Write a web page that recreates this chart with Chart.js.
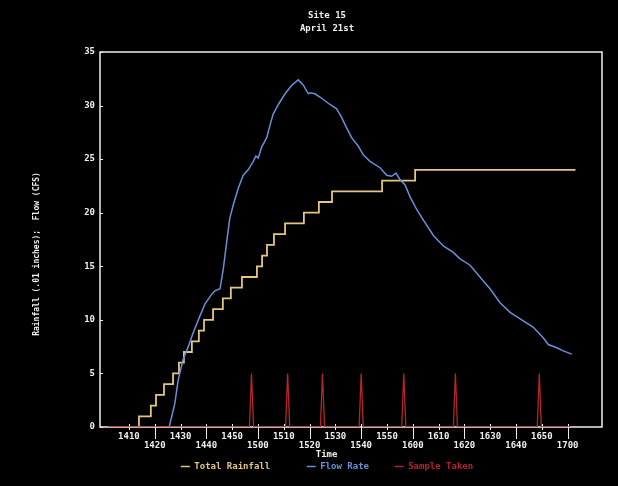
<!DOCTYPE html>
<html>
<head>
<meta charset="utf-8">
<script src="https://cdn.jsdelivr.net/npm/chart.js@4.4.0/dist/chart.umd.min.js"></script>
<style>
    html, body { margin: 0; padding: 0; background: #000; }
    #wrap { width: 618px; height: 486px; }
</style>
</head>
<body>
<div id="wrap"><canvas id="graficoSite15"></canvas></div>
<script>
// Times are minutes after 14:00
const xTickLabels = ['1410', '1420', '1430', '1440', '1450', '1500', '1510', '1520', '1530',
                     '1540', '1550', '1600', '1610', '1620', '1630', '1640', '1650', '1700'];

const rainTimes  = [2, 13.9, 18.5, 20.5, 23.6, 27.1, 29.4, 31.3, 34.4, 37.1, 39.1, 42.6, 46.4,
                    49.5, 53.8, 59.6, 61.6, 63.5, 66.2, 70.5, 77.8, 83.6, 88.7, 108.1, 120.9, 183];
const rainTotals = [0, 1, 2, 3, 4, 5, 6, 7, 8, 9, 10, 11, 12,
                    13, 14, 15, 16, 17, 18, 19, 20, 21, 22, 23, 24, 24];

const flowTimes  = [25.6, 27.8, 29.1, 31.0, 33.0, 34.9, 36.9, 39.5, 42.1, 43.3, 45.3, 46.6, 47.9,
                    49.1, 50.4, 52.4, 54.3, 56.2, 58.2, 59.2, 60.1, 61.4, 63.4, 64.7, 65.9, 67.9,
                    70.5, 73.1, 75.6, 77.6, 79.5, 80.2, 82.1, 84.0, 87.9, 90.5, 92.4, 94.4, 96.3,
                    98.9, 100.8, 103.4, 107.3, 109.9, 111.8, 113.5, 115.0, 117.0, 118.9, 121.5,
                    124.1, 127.9, 131.8, 135.7, 138.3, 142.2, 146.0, 149.9, 153.8, 157.7, 162.8,
                    166.7, 170.6, 172.5, 175.8, 178.3, 181.6];
const flowValues = [0, 2.2, 4.4, 6.3, 7.5, 8.8, 10, 11.5, 12.4, 12.7, 12.9, 14.8, 17.3,
                    19.5, 20.7, 22.3, 23.5, 24.0, 24.8, 25.3, 25.1, 26.1, 27, 28.2, 29.2, 30.1,
                    31.1, 31.9, 32.4, 31.9, 31.1, 31.2, 31.1, 30.8, 30.1, 29.7, 28.9, 27.9, 27,
                    26.2, 25.4, 24.8, 24.2, 23.5, 23.4, 23.7, 23.1, 22.6, 21.5, 20.3,
                    19.3, 17.9, 16.9, 16.3, 15.7, 15.1, 14, 12.9, 11.6, 10.7, 9.9,
                    9.3, 8.3, 7.7, 7.4, 7.1, 6.8];

const sampleTimes = [57.5, 71.5, 85, 100, 116.5, 136.5, 169];
const sampleMark  = 5;
const sampleSpan  = [2, 181];

const xMin = -1.2;
const xMax = 193.3;

const axisColor = '#f0f0f0';
const rainColor = '#e3c77e';
const flowColor = '#6b8fd6';
const sampleColor = '#b3262b';
const mono = 'DejaVu Sans Mono';

// "1410" -> 10 minutes after 14:00
const xTickValues = xTickLabels.map(l => (+l.slice(0, 2) - 14) * 60 + (+l.slice(2)));

const rainData = rainTimes.map((t, i) => ({ x: t, y: rainTotals[i] }));
const flowData = flowTimes.map((t, i) => ({ x: t, y: flowValues[i] }));
const sampleData = [{ x: sampleSpan[0], y: 0 }];
sampleTimes.forEach(t => {
    sampleData.push({ x: t - 0.8, y: 0 }, { x: t, y: sampleMark }, { x: t + 0.8, y: 0 });
});
sampleData.push({ x: sampleSpan[1], y: 0 });

// box round the plot plus tick marks (long ones under the lower labels)
const moldura = {
    id: 'moldura',
    beforeDatasetsDraw(chart) {
        const { ctx, chartArea: a, scales: { x, y } } = chart;
        ctx.save();
        ctx.strokeStyle = axisColor;
        ctx.lineWidth = 1.5;
        ctx.strokeRect(a.left, a.top, a.right - a.left, a.bottom - a.top);
        ctx.lineWidth = 1;
        xTickValues.forEach((v, i) => {
            const px = Math.round(x.getPixelForValue(v)) + 0.5;
            ctx.beginPath();
            ctx.moveTo(px, a.bottom - 3);
            ctx.lineTo(px, a.bottom + (i % 2 ? 12 : 3));
            ctx.stroke();
        });
        y.ticks.forEach(t => {
            const py = Math.round(y.getPixelForValue(t.value)) + 0.5;
            ctx.beginPath();
            ctx.moveTo(a.left, py);
            ctx.lineTo(a.left + 3, py);
            ctx.stroke();
        });
        ctx.restore();
    }
};

const legendNames = ['Total Rainfall      ', 'Flow Rate    ', 'Sample Taken'];
const legendColors = [rainColor, flowColor, sampleColor];

const ctx = document.getElementById('graficoSite15').getContext('2d');

const grafico = new Chart(ctx, {
    type: 'line',
    data: {
        datasets: [{
            label: 'Total Rainfall',
            data: rainData,
            borderColor: rainColor,
            borderWidth: 1.8,
            stepped: 'before',
            pointRadius: 0,
            order: 2
        }, {
            label: 'Flow Rate',
            data: flowData,
            borderColor: flowColor,
            borderWidth: 1.5,
            pointRadius: 0,
            order: 1
        }, {
            label: 'Sample Taken',
            data: sampleData,
            borderColor: sampleColor,
            borderWidth: 1.3,
            pointRadius: 0,
            order: 0
        }]
    },
    options: {
        responsive: true,
        maintainAspectRatio: false,
        animation: false,
        layout: {
            padding: { left: 52, right: 16, top: 0, bottom: 5 }
        },
        plugins: {
            tooltip: { enabled: false },
            title: {
                display: true,
                text: 'Site 15',
                color: axisColor,
                font: { family: mono, size: 9, weight: 'bold' },
                padding: { top: 10, bottom: 2 }
            },
            subtitle: {
                display: true,
                text: 'April 21st',
                color: axisColor,
                font: { family: mono, size: 9, weight: 'bold' },
                padding: { top: 0, bottom: 18.4 }
            },
            legend: {
                position: 'bottom',
                labels: {
                    boxWidth: 9,
                    boxHeight: 1.5,
                    padding: 4,
                    font: { family: mono, size: 9, weight: 'bold' },
                    generateLabels: () => legendNames.map((name, i) => ({
                        text: name,
                        fillStyle: legendColors[i],
                        strokeStyle: legendColors[i],
                        fontColor: legendColors[i],
                        lineWidth: 0,
                        datasetIndex: i
                    }))
                }
            }
        },
        scales: {
            x: {
                type: 'linear',
                min: xMin,
                max: xMax,
                grid: { display: false, drawTicks: false },
                border: { display: false },
                afterBuildTicks: s => { s.ticks = xTickValues.map(v => ({ value: v })); },
                afterFit: s => { s.height = 31; },
                ticks: {
                    autoSkip: false,
                    maxRotation: 0,
                    padding: 5.5,
                    color: axisColor,
                    font: { family: mono, size: 9, weight: 'bold', lineHeight: 1 },
                    callback: (v, i) => i % 2 ? ['', xTickLabels[i]] : xTickLabels[i]
                },
                title: {
                    display: true,
                    text: 'Time         ',
                    color: axisColor,
                    font: { family: mono, size: 9, weight: 'bold' },
                    padding: { top: 0, bottom: -2.4 }
                }
            },
            y: {
                min: 0,
                max: 35,
                grid: { display: false, drawTicks: false },
                border: { display: false },
                afterFit: s => { s.width = 48; },
                ticks: {
                    stepSize: 5,
                    padding: 5,
                    color: axisColor,
                    font: { family: mono, size: 9, weight: 'bold' }
                },
                title: {
                    display: true,
                    text: 'Rainfall (.01 inches);  Flow (CFS)      ',
                    color: axisColor,
                    font: { family: mono, size: 8, weight: 'bold' },
                    padding: { top: -20, bottom: 0 }
                }
            }
        }
    },
    plugins: [moldura]
});
</script>
</body>
</html>
